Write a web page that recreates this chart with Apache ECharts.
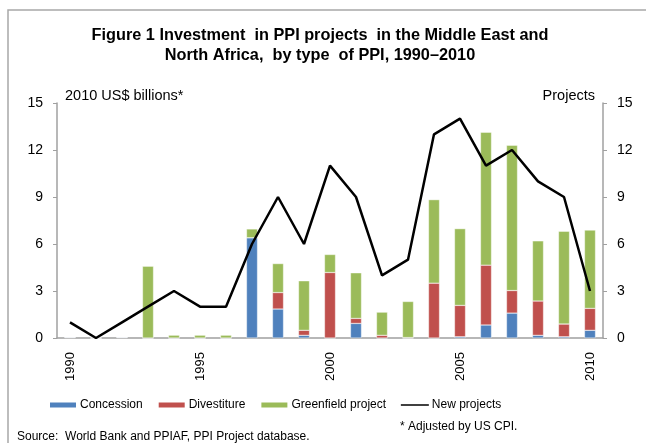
<!DOCTYPE html>
<html>
<head>
<meta charset="utf-8">
<script src="https://cdn.jsdelivr.net/npm/echarts@6/dist/echarts.min.js"></script>
<style>
  html, body { margin: 0; padding: 0; background: #fff; }
  #chart { width: 646px; height: 443px; }
</style>
</head>
<body>
<div id="chart"></div>
<script>
const years = ["1990", "1991", "1992", "1993", "1994", "1995", "1996", "1997", "1998", "1999", "2000",
  "2001", "2002", "2003", "2004", "2005", "2006", "2007", "2008", "2009", "2010"];
// 2010 US$ billions
const concession = [0.05, 0, 0.05, 0, 0, 0, 0, 6.4, 1.85, 0.17, 0, 0.93, 0, 0, 0, 0.08, 0.83, 1.59, 0.17, 0.08, 0.49];
const divestiture = [0, 0, 0, 0, 0, 0, 0, 0, 1.05, 0.32, 4.18, 0.32, 0.17, 0.03, 3.5, 2.0, 3.82, 1.44, 2.19, 0.81, 1.4];
const greenfield = [0, 0, 0, 4.58, 0.18, 0.18, 0.18, 0.56, 1.85, 3.16, 1.15, 2.91, 1.48, 2.3, 5.33, 4.9, 8.48, 9.27, 3.84, 5.92, 5.0];
// number of projects
const newProjects = [1, 0, 1, 2, 3, 2, 2, 6, 9, 6, 11, 9, 4, 5, 13, 14, 11, 12, 10, 9, 3];

const chart = echarts.init(document.getElementById("chart"));
const font = "Liberation Sans, Arial, sans-serif";
const axisGray = "#a0a0a0";

const barSeries = (name, data, color) => ({
  name: name,
  type: "bar",
  stack: "ppi",
  data: data,
  barWidth: 11,
  itemStyle: { color: color, borderColor: "#fff", borderWidth: 0.4 },
  animation: false,
});

chart.setOption({
  animation: false,
  textStyle: { fontFamily: font },
  title: {
    text: "Figure 1 Investment  in PPI projects  in the Middle East and\nNorth Africa,  by type  of PPI, 1990–2010",
    left: 315,
    textAlign: "center",
    top: 21,
    textStyle: { fontSize: 16.3, fontWeight: "bold", color: "#000", lineHeight: 20, fontFamily: font },
  },
  grid: { left: 57, right: 43, top: 103, bottom: 105 },
  legend: {
    left: 48,
    top: 399,
    padding: 0,
    itemWidth: 28,
    itemHeight: 7,
    itemGap: 14,
    textStyle: { fontSize: 12, color: "#000", fontFamily: font, padding: [0, 0, 0, -2] },
    data: [
      { name: "Concession", icon: "rect" },
      { name: "Divestiture", icon: "rect" },
      { name: "Greenfield project", icon: "rect" },
      { name: "New projects", itemStyle: { opacity: 0 }, lineStyle: { width: 1.5 } },
    ],
  },
  xAxis: {
    type: "category",
    data: years,
    axisLine: { lineStyle: { color: axisGray, width: 1.5 } },
    axisTick: { show: false },
    axisLabel: { interval: 4, rotate: 90, margin: 14, fontSize: 13, color: "#000" },
  },
  yAxis: [
    {
      type: "value",
      min: 0,
      max: 15,
      interval: 3,
      name: "2010 US$ billions*",
      nameLocation: "end",
      nameGap: 0,
      nameTextStyle: { align: "left", verticalAlign: "bottom", padding: [0, 0, 0, 8], fontSize: 14.5, color: "#000" },
      axisLine: { show: true, lineStyle: { color: axisGray, width: 1.5 } },
      axisTick: { show: true, length: 4, lineStyle: { color: axisGray } },
      axisLabel: { fontSize: 14, color: "#000", margin: 14 },
      splitLine: { show: false },
    },
    {
      type: "value",
      min: 0,
      max: 15,
      interval: 3,
      name: "Projects",
      nameLocation: "end",
      nameGap: 0,
      nameTextStyle: { align: "right", verticalAlign: "bottom", padding: [0, 8, 0, 0], fontSize: 14.5, color: "#000" },
      axisLine: { show: true, lineStyle: { color: axisGray, width: 1.5 } },
      axisTick: { show: true, length: 4, lineStyle: { color: axisGray } },
      axisLabel: { fontSize: 14, color: "#000", margin: 14 },
      splitLine: { show: false },
    },
  ],
  series: [
    barSeries("Concession", concession, "#4f81bd"),
    barSeries("Divestiture", divestiture, "#c0504d"),
    barSeries("Greenfield project", greenfield, "#9bbb59"),
    {
      name: "New projects",
      type: "line",
      yAxisIndex: 1,
      data: newProjects,
      symbol: "none",
      lineStyle: { color: "#000", width: 2.5 },
      itemStyle: { color: "#000" },
      animation: false,
    },
  ],
  graphic: [
    {
      type: "rect",
      shape: { x: 8, y: 10, width: 700, height: 500 },
      style: { fill: "none", stroke: "#a8a8a8", lineWidth: 1.5 },
      silent: true,
    },
    {
      type: "text",
      left: 17,
      top: 431,
      style: { text: "Source:  World Bank and PPIAF, PPI Project database.", fontSize: 12, fill: "#000", fontFamily: font },
    },
    {
      type: "text",
      left: 400,
      top: 421,
      style: { text: "* Adjusted by US CPI.", fontSize: 12, fill: "#000", fontFamily: font },
    },
  ],
});
</script>
</body>
</html>
